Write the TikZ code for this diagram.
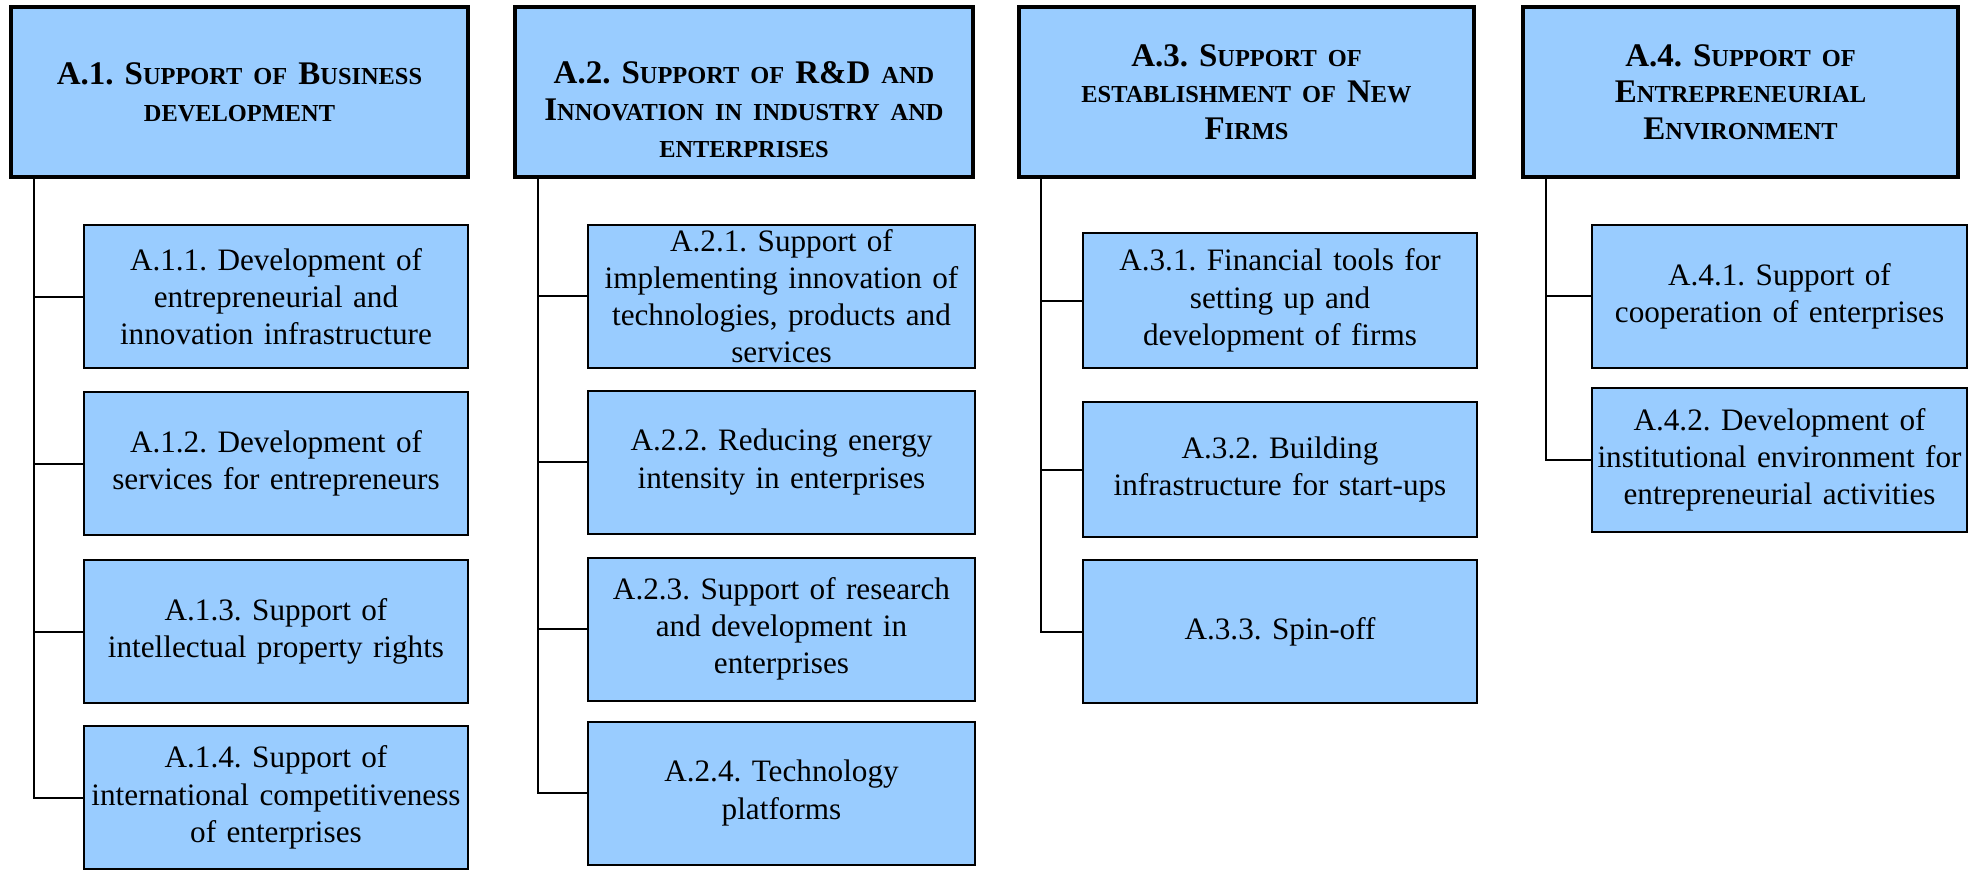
\documentclass[tikz,border=0pt]{standalone}
\usepackage{fontspec}
\setmainfont{Liberation Serif}
\frenchspacing
\definecolor{boxblue}{RGB}{153,204,255}
\newcommand{\smc}[1]{{\fontsize{12.2pt}{18.35pt}\selectfont #1}}

\begin{document}
\begin{tikzpicture}[
    x=0.5pt, y=-0.5pt,
    head/.style={draw, fill=boxblue, line width=1.6pt, inner xsep=0pt, text width=#1,
        minimum height=85pt, align=center, font=\rmfamily\bfseries\fontsize{16.5pt}{18.35pt}\selectfont},
    item/.style={draw, fill=boxblue, line width=1pt, inner xsep=0pt, text width=#1,
        minimum height=71.5pt, align=center, font=\rmfamily\fontsize{15.6pt}{18.6pt}\selectfont},
    link/.style={draw, line width=1pt}
]
\useasboundingbox (0,0) rectangle (1984,869);

% headers
\node[head=228.5pt] (h1) at (239.5,92) {A.1. S\smc{UPPORT OF} B\smc{USINESS}\\ \smc{DEVELOPMENT}};
\node[head=229pt] (h2) at (744,92) {\rule{0pt}{28.5pt}A.2. S\smc{UPPORT OF} R\&D \smc{AND}\\ I\smc{NNOVATION IN INDUSTRY AND}\\ \smc{ENTERPRISES}};
\node[head=227.5pt] (h3) at (1246.5,92) {A.3. S\smc{UPPORT OF}\\ \smc{ESTABLISHMENT OF} N\smc{EW}\\ F\smc{IRMS}};
\node[head=217.5pt] (h4) at (1740.5,92) {A.4. S\smc{UPPORT OF}\\ E\smc{NTREPRENEURIAL}\\ E\smc{NVIRONMENT}};

% column 1
\node[item=192pt] (c11) at (276,296.5) {A.1.1. Development of\\ entrepreneurial and\\ innovation infrastructure};
\node[item=192pt] (c12) at (276,463.5) {A.1.2. Development of\\ services for entrepreneurs};
\node[item=192pt] (c13) at (276,631.5) {A.1.3. Support of\\ intellectual property rights};
\node[item=192pt] (c14) at (276,797.5) {A.1.4. Support of\\ international competitiveness\\ of enterprises};

% column 2
\node[item=193.5pt, inner ysep=0pt] (c21) at (781.5,296) {A.2.1. Support of\\ implementing innovation of\\ technologies, products and\\ services};
\node[item=193.5pt] (c22) at (781.5,462) {A.2.2. Reducing energy\\ intensity in enterprises};
\node[item=193.5pt] (c23) at (781.5,629) {A.2.3. Support of research\\ and development in\\ enterprises};
\node[item=193.5pt] (c24) at (781.5,793) {A.2.4. Technology\\ platforms};

% column 3
\node[item=197pt, minimum height=67.5pt] (c31) at (1280,300.5) {A.3.1. Financial tools for\\ setting up and\\ development of firms};
\node[item=197pt, minimum height=67.5pt] (c32) at (1280,469.5) {A.3.2. Building\\ infrastructure for start-ups};
\node[item=197pt] (c33) at (1280,631.5) {A.3.3. Spin-off};

% column 4
\node[item=187.5pt] (c41) at (1779.5,296) {A.4.1. Support of\\ cooperation of enterprises};
\node[item=187.5pt, minimum height=72pt] (c42) at (1779.5,460) {A.4.2. Development of\\ institutional environment for\\ entrepreneurial activities};

% trunks
\coordinate (t1) at ([xshift=12.5pt]h1.south west);
\coordinate (t2) at ([xshift=12.5pt]h2.south west);
\coordinate (t3) at ([xshift=12pt]h3.south west);
\coordinate (t4) at ([xshift=12.5pt]h4.south west);

\foreach \i in {1,...,4} \draw[link] (t1) |- (c1\i.west);
\foreach \i in {1,...,4} \draw[link] (t2) |- (c2\i.west);
\foreach \i in {1,...,3} \draw[link] (t3) |- (c3\i.west);
\foreach \i in {1,2} \draw[link] (t4) |- (c4\i.west);

\end{tikzpicture}
\end{document}
